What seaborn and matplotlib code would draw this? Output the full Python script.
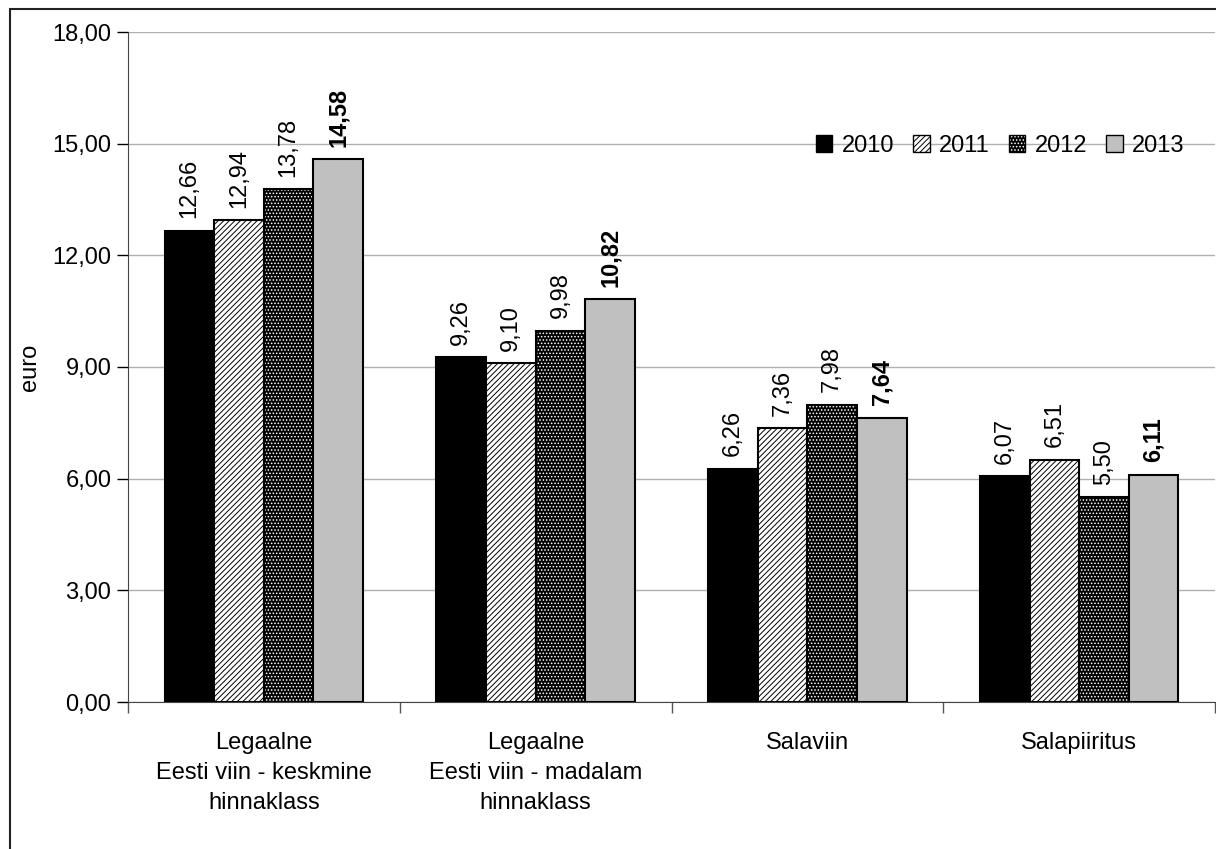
import matplotlib
matplotlib.use("Agg")
import matplotlib.pyplot as plt
import seaborn as sns
import pandas as pd
from matplotlib.patches import Rectangle, Patch
from matplotlib.ticker import FixedLocator, FuncFormatter

categories = ["Legaalne\nEesti viin - keskmine\nhinnaklass",
              "Legaalne\nEesti viin - madalam\nhinnaklass",
              "Salaviin", "Salapiiritus"]
years = ["2010", "2011", "2012", "2013"]
v2010 = [12.66, 9.26, 6.26, 6.07]
v2011 = [12.94, 9.10, 7.36, 6.51]
v2012 = [13.78, 9.98, 7.98, 5.50]
v2013 = [14.58, 10.82, 7.64, 6.11]
yticks = [0, 3, 6, 9, 12, 15, 18]

rows = []
for yr, vals in zip(years, [v2010, v2011, v2012, v2013]):
    for c, v in zip(categories, vals):
        rows.append({"cat": c, "year": yr, "value": v})
df = pd.DataFrame(rows)

sns.set_style("white")
plt.rcParams["font.family"] = ["Liberation Sans", "DejaVu Sans"]
plt.rcParams["hatch.linewidth"] = 0.7
for k in ["text.color", "axes.labelcolor", "xtick.color", "ytick.color"]:
    plt.rcParams[k] = "black"

FS = 17
fig = plt.figure(figsize=(12.16, 8.49), dpi=100)
ax = fig.add_axes([128/1216, 1-702/849, (1215-128)/1216, (702-32)/849])

face = {"2010": "black", "2011": "white", "2012": "black", "2013": "#c0c0c0"}
sns.barplot(data=df, x="cat", y="value", hue="year", order=categories,
            hue_order=years, palette=face, width=0.73, gap=0,
            edgecolor="black", linewidth=1.5, saturation=1, ax=ax, legend=False)

for cont, yr in zip(ax.containers, years):
    for p in cont.patches:
        if yr == "2011":
            p.set_hatch("//////")
        elif yr == "2012":
            p.set_hatch(".....")
            p._hatch_color = (1, 1, 1, 1)
    labels = [f"{v:.2f}".replace(".", ",") for v in cont.datavalues]
    ax.bar_label(cont, labels=labels, rotation=90, padding=9, fontsize=FS,
                 color="black",
                 fontweight="bold" if yr == "2013" else "normal")

ax.set_ylim(0, 18)
ax.set_xlim(-0.5, 3.5)
ax.yaxis.set_major_locator(FixedLocator(yticks))
ax.yaxis.set_major_formatter(FuncFormatter(lambda v, p: f"{v:.2f}".replace(".", ",")))
ax.yaxis.grid(True, color="#b0b0b0", linewidth=1)
ax.set_axisbelow(True)
ax.set_ylabel("euro", fontsize=FS, labelpad=8, color="black")
ax.set_xlabel("")
ax.tick_params(axis="y", which="major", left=True, length=8, width=1, labelsize=FS,
               color="black", labelcolor="black", pad=4)
ax.tick_params(axis="x", which="major", bottom=False, labelsize=FS, labelcolor="black", pad=18)
ax.xaxis.set_minor_locator(FixedLocator([-0.5, 0.5, 1.5, 2.5, 3.5]))
ax.tick_params(axis="x", which="minor", bottom=True, length=8, width=1, color="#555555")
for lab in ax.get_xticklabels():
    lab.set_linespacing(1.47)
for s in ["top", "right"]:
    ax.spines[s].set_visible(False)
ax.spines["left"].set_color("#444444")
ax.spines["bottom"].set_color("#444444")

handles = []
for yr in years:
    h = Patch(facecolor=face[yr], edgecolor="black", linewidth=1)
    if yr == "2011":
        h.set_hatch("//////")
    handles.append(h)
leg = ax.legend(handles, years, loc="center right", bbox_to_anchor=(0.972, (702-146)/670),
                ncol=4, frameon=False, fontsize=FS, handlelength=0.7,
                handleheight=0.7, handletextpad=0.4, columnspacing=0.8,
                borderaxespad=0, borderpad=0, labelcolor="black")
lp = leg.get_patches()[2]
lp.set_hatch(".....")
lp._hatch_color = (1, 1, 1, 1)

fig.patches.append(Rectangle((10/1216, -0.01), 1.0, 1-9/849 + 0.01,
                             transform=fig.transFigure, fill=False,
                             edgecolor="#222222", linewidth=1.5))

fig.savefig("out.png", dpi=100)
